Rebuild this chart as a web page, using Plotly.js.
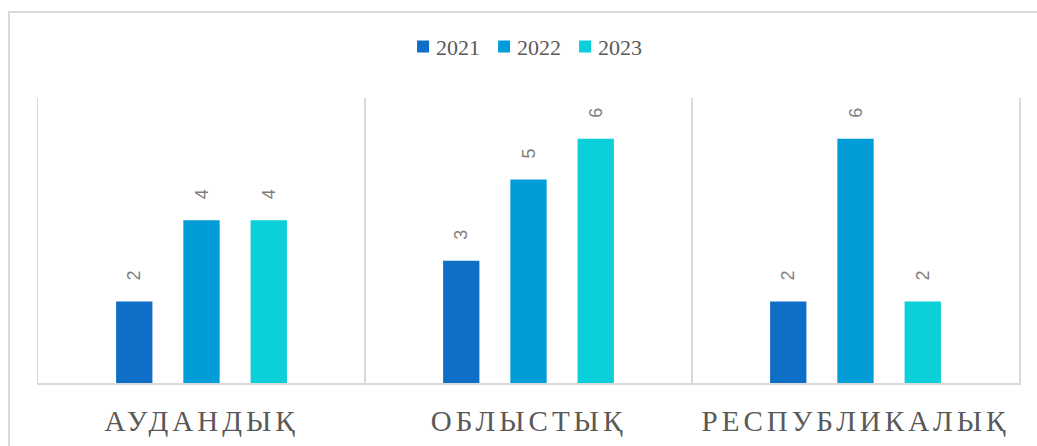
<!DOCTYPE html>
<html>
<head>
<meta charset="utf-8">
<script src="https://cdn.plot.ly/plotly-3.0.1.min.js"></script>
<style>
  html, body { margin: 0; padding: 0; background: #fff; overflow: hidden; }
  #frame { position: absolute; left: 8px; top: 11px; width: 1100px; height: 500px;
           border-left: 2px solid #d9d9d9; border-top: 2px solid #d9d9d9; box-sizing: border-box; }
  #chart { position: absolute; left: 0; top: 0; width: 1037px; height: 446px; }
  .xtick text { letter-spacing: 4px; }
  .legendtext { transform: translateX(-7px); }
</style>
</head>
<body>
<div id="frame"></div>
<div id="chart"></div>
<script>
const categories = ["АУДАНДЫҚ", "ОБЛЫСТЫҚ", "РЕСПУБЛИКАЛЫҚ"];
const seriesNames = ["2021", "2022", "2023"];
const values2021 = [2, 3, 2];
const values2022 = [4, 5, 6];
const values2023 = [4, 6, 2];
const seriesValues = [values2021, values2022, values2023];
const colors = ["#0F6FC6", "#009DD9", "#0BD0D9"];

const traces = seriesNames.map((name, i) => ({
  type: "bar",
  name: name,
  x: categories,
  y: seriesValues[i],
  marker: { color: colors[i] },
  text: seriesValues[i].map(String),
  texttemplate: "\u2002\u2002%{text}",
  textposition: "outside",
  textangle: -90,
  cliponaxis: false,
  textfont: { family: "Liberation Sans, Arial, sans-serif", size: 18, color: "#808080" },
  hoverinfo: "none"
}));

const layout = {
  width: 1037, height: 446,
  margin: { l: 38, r: 18, t: 98, b: 63 },
  paper_bgcolor: "rgba(0,0,0,0)",
  plot_bgcolor: "rgba(0,0,0,0)",
  barmode: "group",
  bargap: 0.383,
  bargroupgap: 0.46,
  showlegend: true,
  legend: {
    orientation: "h", x: 0.496, xanchor: "center", y: 1.18, yanchor: "middle",
    font: { family: "Liberation Serif, Times New Roman, serif", size: 22, color: "#595959" },
    itemwidth: 30, entrywidth: 36, entrywidthmode: "pixels", traceorder: "normal"
  },
  xaxis: {
    type: "category",
    tickson: "boundaries",
    showgrid: true, gridcolor: "#d9d9d9", gridwidth: 1.5,
    showline: true, linecolor: "#d9d9d9", linewidth: 1.5,
    ticks: "", ticklabelstandoff: 12,
    tickfont: { family: "Liberation Serif, Times New Roman, serif", size: 29, color: "#595959" },
    range: [-0.5, 2.5], fixedrange: true
  },
  yaxis: {
    range: [0, 7], visible: true, showticklabels: false, ticks: "",
    showline: true, mirror: true, linecolor: "#d9d9d9", linewidth: 1.5,
    showgrid: false, zeroline: false, fixedrange: true
  }
};

Plotly.newPlot("chart", traces, layout, { displayModeBar: false, staticPlot: true });
</script>
</body>
</html>
